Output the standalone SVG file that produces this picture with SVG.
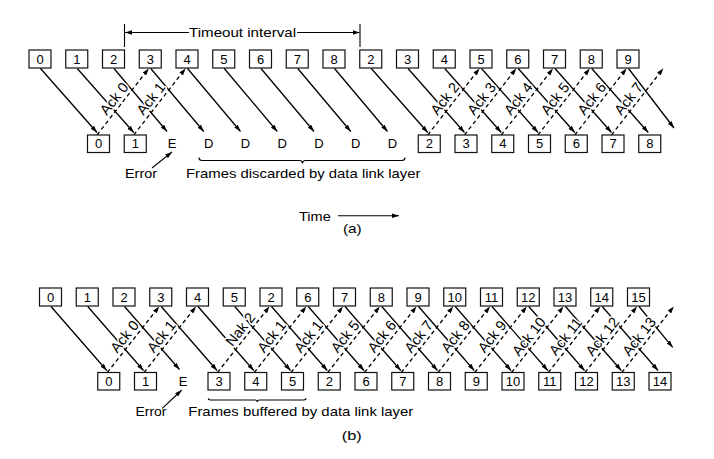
<svg xmlns="http://www.w3.org/2000/svg" width="714" height="459" viewBox="0 0 714 459">
<defs>
<marker id="ah" viewBox="0 0 7 4.6" refX="7" refY="2.3" markerWidth="7" markerHeight="4.6" markerUnits="userSpaceOnUse" orient="auto"><path d="M0,0 L7,2.3 L0,4.6 z" fill="#000"/></marker>
</defs>
<style>
.b{fill:#fff;stroke:#111;stroke-width:1.2}
.t{font-family:"Liberation Sans",Arial,sans-serif;font-size:13px;text-anchor:middle;fill:#000}
.f{stroke:#000;stroke-width:1.3;fill:none;marker-end:url(#ah)}
.d{stroke:#000;stroke-width:1.3;fill:none;stroke-dasharray:4 3;marker-end:url(#ah)}
.l{font-family:"Liberation Sans",Arial,sans-serif;font-size:14.5px;text-anchor:middle;fill:#000;stroke:#fff;stroke-width:3;paint-order:stroke;stroke-linejoin:round}
.x{font-family:"Liberation Sans",Arial,sans-serif;font-size:13px;fill:#000}
.p{stroke:#000;stroke-width:1.1;fill:none}
.a{stroke:#000;stroke-width:1.1;fill:none;marker-end:url(#ah)}
</style>
<rect width="714" height="459" fill="#fff"/>

<g id="connectors">
<path class="f" d="M40.5,68.5 L97,132.5"/>
<path class="f" d="M77.25,68.5 L133.75,132.5"/>
<path class="f" d="M114,68.5 L167,131.5"/>
<path class="f" d="M150.75,68.5 L203.75,131.5"/>
<path class="f" d="M187.5,68.5 L240.5,131.5"/>
<path class="f" d="M224.25,68.5 L277.25,131.5"/>
<path class="f" d="M261,68.5 L314,131.5"/>
<path class="f" d="M297.75,68.5 L350.75,131.5"/>
<path class="f" d="M334.5,68.5 L387.5,131.5"/>
<path class="f" d="M371.25,68.5 L427.75,132.5"/>
<path class="f" d="M408,68.5 L464.5,132.5"/>
<path class="f" d="M444.75,68.5 L501.25,132.5"/>
<path class="f" d="M481.5,68.5 L538,132.5"/>
<path class="f" d="M518.25,68.5 L574.75,132.5"/>
<path class="f" d="M555,68.5 L611.5,132.5"/>
<path class="f" d="M591.75,68.5 L648.25,132.5"/>
<path class="f" d="M628.5,68.5 L674,128"/>
<path class="d" d="M97,135 L148.75,68.5"/>
<path class="d" d="M133.75,135 L185.5,68.5"/>
<path class="d" d="M427.75,135 L479.5,68.5"/>
<path class="d" d="M464.5,135 L516.25,68.5"/>
<path class="d" d="M501.25,135 L553,68.5"/>
<path class="d" d="M538,135 L589.75,68.5"/>
<path class="d" d="M574.75,135 L626.5,68.5"/>
<path class="d" d="M611.5,135 L663.25,68.5"/>
<path class="p" d="M124.5,24 V47 M360,24 V47"/>
<path class="a" d="M189,32.5 H125"/>
<path class="a" d="M297,32.5 H359.5"/>
<path class="a" d="M152,168 L172,152"/>
<path class="a" d="M338,215.7 H399"/>
<path class="p" d="M199,157.5 Q199,160.5 202,160.5 L299.5,160.5 Q302.5,160.5 302.5,163.5 Q302.5,160.5 305.5,160.5 L402,160.5 Q405,160.5 405,157.5"/>
<path class="f" d="M51,306.5 L106.75,370.5"/>
<path class="f" d="M87.75,306.5 L143.5,370.5"/>
<path class="f" d="M124.5,306.5 L179.5,369.5"/>
<path class="f" d="M161.25,306.5 L217,370.5"/>
<path class="f" d="M198,306.5 L253.75,370.5"/>
<path class="f" d="M234.75,306.5 L290.5,370.5"/>
<path class="f" d="M271.5,306.5 L327.25,370.5"/>
<path class="f" d="M308.25,306.5 L364,370.5"/>
<path class="f" d="M345,306.5 L400.75,370.5"/>
<path class="f" d="M381.75,306.5 L437.5,370.5"/>
<path class="f" d="M418.5,306.5 L474.25,370.5"/>
<path class="f" d="M455.25,306.5 L511,370.5"/>
<path class="f" d="M492,306.5 L547.75,370.5"/>
<path class="f" d="M528.75,306.5 L584.5,370.5"/>
<path class="f" d="M565.5,306.5 L621.25,370.5"/>
<path class="f" d="M602.25,306.5 L658,370.5"/>
<path class="f" d="M639,306.5 L672.7,347.3"/>
<path class="d" d="M107.25,372.5 L159.25,306.5"/>
<path class="d" d="M144,372.5 L196,306.5"/>
<path class="d" d="M217.5,372.5 L269.5,306.5"/>
<path class="d" d="M254.25,372.5 L306.25,306.5"/>
<path class="d" d="M291,372.5 L343,306.5"/>
<path class="d" d="M327.75,372.5 L379.75,306.5"/>
<path class="d" d="M364.5,372.5 L416.5,306.5"/>
<path class="d" d="M401.25,372.5 L453.25,306.5"/>
<path class="d" d="M438,372.5 L490,306.5"/>
<path class="d" d="M474.75,372.5 L526.75,306.5"/>
<path class="d" d="M511.5,372.5 L563.5,306.5"/>
<path class="d" d="M548.25,372.5 L600.25,306.5"/>
<path class="d" d="M585,372.5 L637,306.5"/>
<path class="d" d="M621.75,372.5 L673.75,306.5"/>
<path class="a" d="M162.3,408.3 L181.7,390"/>
<path class="p" d="M208.3,398.3 Q208.3,400 210.5,400 L255,400 Q257.3,400 257.3,402 Q257.3,400 259.5,400 L303.8,400 Q306,400 306,398.3"/>
</g>

<g id="ack-labels">
<text class="l" transform="translate(121,104.1) rotate(-52)" y="-3.8">Ack 0</text>
<text class="l" transform="translate(157.75,104.1) rotate(-52)" y="-3.8">Ack 1</text>
<text class="l" transform="translate(451.75,104.1) rotate(-52)" y="-3.8">Ack 2</text>
<text class="l" transform="translate(488.5,104.1) rotate(-52)" y="-3.8">Ack 3</text>
<text class="l" transform="translate(525.25,104.1) rotate(-52)" y="-3.8">Ack 4</text>
<text class="l" transform="translate(562,104.1) rotate(-52)" y="-3.8">Ack 5</text>
<text class="l" transform="translate(598.75,104.1) rotate(-52)" y="-3.8">Ack 6</text>
<text class="l" transform="translate(635.5,104.1) rotate(-52)" y="-3.8">Ack 7</text>
<text class="l" transform="translate(131.45,341.9) rotate(-51.8)" y="-3.8">Ack 0</text>
<text class="l" transform="translate(168.2,341.9) rotate(-51.8)" y="-3.8">Ack 1</text>
<text class="l" transform="translate(247.3,334.8) rotate(-51.8)" y="-3.8">Nak 2</text>
<text class="l" transform="translate(278.45,341.9) rotate(-51.8)" y="-3.8">Ack 1</text>
<text class="l" transform="translate(315.2,341.9) rotate(-51.8)" y="-3.8">Ack 1</text>
<text class="l" transform="translate(351.95,341.9) rotate(-51.8)" y="-3.8">Ack 5</text>
<text class="l" transform="translate(388.7,341.9) rotate(-51.8)" y="-3.8">Ack 6</text>
<text class="l" transform="translate(425.45,341.9) rotate(-51.8)" y="-3.8">Ack 7</text>
<text class="l" transform="translate(462.2,341.9) rotate(-51.8)" y="-3.8">Ack 8</text>
<text class="l" transform="translate(498.95,341.9) rotate(-51.8)" y="-3.8">Ack 9</text>
<text class="l" transform="translate(535.7,341.9) rotate(-51.8)" y="-3.8">Ack 10</text>
<text class="l" transform="translate(572.45,341.9) rotate(-51.8)" y="-3.8">Ack 11</text>
<text class="l" transform="translate(609.2,341.9) rotate(-51.8)" y="-3.8">Ack 12</text>
<text class="l" transform="translate(645.95,341.9) rotate(-51.8)" y="-3.8">Ack 13</text>
</g>

<g id="a-s0"><rect class="b" x="29" y="50" width="22" height="18"/><text class="t" x="40" y="63.7">0</text></g>
<g id="a-s1"><rect class="b" x="65.75" y="50" width="22" height="18"/><text class="t" x="76.75" y="63.7">1</text></g>
<g id="a-s2"><rect class="b" x="102.5" y="50" width="22" height="18"/><text class="t" x="113.5" y="63.7">2</text></g>
<g id="a-s3"><rect class="b" x="139.25" y="50" width="22" height="18"/><text class="t" x="150.25" y="63.7">3</text></g>
<g id="a-s4"><rect class="b" x="176" y="50" width="22" height="18"/><text class="t" x="187" y="63.7">4</text></g>
<g id="a-s5"><rect class="b" x="212.75" y="50" width="22" height="18"/><text class="t" x="223.75" y="63.7">5</text></g>
<g id="a-s6"><rect class="b" x="249.5" y="50" width="22" height="18"/><text class="t" x="260.5" y="63.7">6</text></g>
<g id="a-s7"><rect class="b" x="286.25" y="50" width="22" height="18"/><text class="t" x="297.25" y="63.7">7</text></g>
<g id="a-s8"><rect class="b" x="323" y="50" width="22" height="18"/><text class="t" x="334" y="63.7">8</text></g>
<g id="a-s9"><rect class="b" x="359.75" y="50" width="22" height="18"/><text class="t" x="370.75" y="63.7">2</text></g>
<g id="a-s10"><rect class="b" x="396.5" y="50" width="22" height="18"/><text class="t" x="407.5" y="63.7">3</text></g>
<g id="a-s11"><rect class="b" x="433.25" y="50" width="22" height="18"/><text class="t" x="444.25" y="63.7">4</text></g>
<g id="a-s12"><rect class="b" x="470" y="50" width="22" height="18"/><text class="t" x="481" y="63.7">5</text></g>
<g id="a-s13"><rect class="b" x="506.75" y="50" width="22" height="18"/><text class="t" x="517.75" y="63.7">6</text></g>
<g id="a-s14"><rect class="b" x="543.5" y="50" width="22" height="18"/><text class="t" x="554.5" y="63.7">7</text></g>
<g id="a-s15"><rect class="b" x="580.25" y="50" width="22" height="18"/><text class="t" x="591.25" y="63.7">8</text></g>
<g id="a-s16"><rect class="b" x="617" y="50" width="22" height="18"/><text class="t" x="628" y="63.7">9</text></g>

<g id="a-r0"><rect class="b" x="87.5" y="135" width="22" height="17.5"/><text class="t" x="98.5" y="148.4">0</text></g>
<g id="a-r1"><rect class="b" x="124.25" y="135" width="22" height="17.5"/><text class="t" x="135.25" y="148.4">1</text></g>
<g id="a-r2"><text class="t" x="172" y="148.4">E</text></g>
<g id="a-r3"><text class="t" x="208.75" y="148.4">D</text></g>
<g id="a-r4"><text class="t" x="245.5" y="148.4">D</text></g>
<g id="a-r5"><text class="t" x="282.25" y="148.4">D</text></g>
<g id="a-r6"><text class="t" x="319" y="148.4">D</text></g>
<g id="a-r7"><text class="t" x="355.75" y="148.4">D</text></g>
<g id="a-r8"><text class="t" x="392.5" y="148.4">D</text></g>
<g id="a-r9"><rect class="b" x="418.25" y="135" width="22" height="17.5"/><text class="t" x="429.25" y="148.4">2</text></g>
<g id="a-r10"><rect class="b" x="455" y="135" width="22" height="17.5"/><text class="t" x="466" y="148.4">3</text></g>
<g id="a-r11"><rect class="b" x="491.75" y="135" width="22" height="17.5"/><text class="t" x="502.75" y="148.4">4</text></g>
<g id="a-r12"><rect class="b" x="528.5" y="135" width="22" height="17.5"/><text class="t" x="539.5" y="148.4">5</text></g>
<g id="a-r13"><rect class="b" x="565.25" y="135" width="22" height="17.5"/><text class="t" x="576.25" y="148.4">6</text></g>
<g id="a-r14"><rect class="b" x="602" y="135" width="22" height="17.5"/><text class="t" x="613" y="148.4">7</text></g>
<g id="a-r15"><rect class="b" x="638.75" y="135" width="22" height="17.5"/><text class="t" x="649.75" y="148.4">8</text></g>

<g id="a-text">
<text class="x" x="189" y="36.8" textLength="107" lengthAdjust="spacingAndGlyphs">Timeout interval</text>
<text class="x" x="125" y="177.5" textLength="32" lengthAdjust="spacingAndGlyphs">Error</text>
<text class="x" x="186" y="177.5" textLength="234.5" lengthAdjust="spacingAndGlyphs">Frames discarded by data link layer</text>
<text class="x" x="299" y="220.5" textLength="31.7" lengthAdjust="spacingAndGlyphs">Time</text>
<text class="x" x="343" y="233" textLength="18.7" lengthAdjust="spacingAndGlyphs">(a)</text>
</g>

<g id="b-s0"><rect class="b" x="39.5" y="288" width="22" height="18"/><text class="t" x="50.5" y="301.7">0</text></g>
<g id="b-s1"><rect class="b" x="76.25" y="288" width="22" height="18"/><text class="t" x="87.25" y="301.7">1</text></g>
<g id="b-s2"><rect class="b" x="113" y="288" width="22" height="18"/><text class="t" x="124" y="301.7">2</text></g>
<g id="b-s3"><rect class="b" x="149.75" y="288" width="22" height="18"/><text class="t" x="160.75" y="301.7">3</text></g>
<g id="b-s4"><rect class="b" x="186.5" y="288" width="22" height="18"/><text class="t" x="197.5" y="301.7">4</text></g>
<g id="b-s5"><rect class="b" x="223.25" y="288" width="22" height="18"/><text class="t" x="234.25" y="301.7">5</text></g>
<g id="b-s6"><rect class="b" x="260" y="288" width="22" height="18"/><text class="t" x="271" y="301.7">2</text></g>
<g id="b-s7"><rect class="b" x="296.75" y="288" width="22" height="18"/><text class="t" x="307.75" y="301.7">6</text></g>
<g id="b-s8"><rect class="b" x="333.5" y="288" width="22" height="18"/><text class="t" x="344.5" y="301.7">7</text></g>
<g id="b-s9"><rect class="b" x="370.25" y="288" width="22" height="18"/><text class="t" x="381.25" y="301.7">8</text></g>
<g id="b-s10"><rect class="b" x="407" y="288" width="22" height="18"/><text class="t" x="418" y="301.7">9</text></g>
<g id="b-s11"><rect class="b" x="443.75" y="288" width="22" height="18"/><text class="t" x="454.75" y="301.7">10</text></g>
<g id="b-s12"><rect class="b" x="480.5" y="288" width="22" height="18"/><text class="t" x="491.5" y="301.7">11</text></g>
<g id="b-s13"><rect class="b" x="517.25" y="288" width="22" height="18"/><text class="t" x="528.25" y="301.7">12</text></g>
<g id="b-s14"><rect class="b" x="554" y="288" width="22" height="18"/><text class="t" x="565" y="301.7">13</text></g>
<g id="b-s15"><rect class="b" x="590.75" y="288" width="22" height="18"/><text class="t" x="601.75" y="301.7">14</text></g>
<g id="b-s16"><rect class="b" x="627.5" y="288" width="22" height="18"/><text class="t" x="638.5" y="301.7">15</text></g>

<g id="b-r0"><rect class="b" x="97.75" y="372.5" width="22" height="17.5"/><text class="t" x="108.75" y="386">0</text></g>
<g id="b-r1"><rect class="b" x="134.5" y="372.5" width="22" height="17.5"/><text class="t" x="145.5" y="386">1</text></g>
<g id="b-r2"><text class="t" x="183" y="386">E</text></g>
<g id="b-r3"><rect class="b" x="208" y="372.5" width="22" height="17.5"/><text class="t" x="219" y="386">3</text></g>
<g id="b-r4"><rect class="b" x="244.75" y="372.5" width="22" height="17.5"/><text class="t" x="255.75" y="386">4</text></g>
<g id="b-r5"><rect class="b" x="281.5" y="372.5" width="22" height="17.5"/><text class="t" x="292.5" y="386">5</text></g>
<g id="b-r6"><rect class="b" x="318.25" y="372.5" width="22" height="17.5"/><text class="t" x="329.25" y="386">2</text></g>
<g id="b-r7"><rect class="b" x="355" y="372.5" width="22" height="17.5"/><text class="t" x="366" y="386">6</text></g>
<g id="b-r8"><rect class="b" x="391.75" y="372.5" width="22" height="17.5"/><text class="t" x="402.75" y="386">7</text></g>
<g id="b-r9"><rect class="b" x="428.5" y="372.5" width="22" height="17.5"/><text class="t" x="439.5" y="386">8</text></g>
<g id="b-r10"><rect class="b" x="465.25" y="372.5" width="22" height="17.5"/><text class="t" x="476.25" y="386">9</text></g>
<g id="b-r11"><rect class="b" x="502" y="372.5" width="22" height="17.5"/><text class="t" x="513" y="386">10</text></g>
<g id="b-r12"><rect class="b" x="538.75" y="372.5" width="22" height="17.5"/><text class="t" x="549.75" y="386">11</text></g>
<g id="b-r13"><rect class="b" x="575.5" y="372.5" width="22" height="17.5"/><text class="t" x="586.5" y="386">12</text></g>
<g id="b-r14"><rect class="b" x="612.25" y="372.5" width="22" height="17.5"/><text class="t" x="623.25" y="386">13</text></g>
<g id="b-r15"><rect class="b" x="649" y="372.5" width="22" height="17.5"/><text class="t" x="660" y="386">14</text></g>

<g id="b-text">
<text class="x" x="135.5" y="416" textLength="31" lengthAdjust="spacingAndGlyphs">Error</text>
<text class="x" x="188.3" y="416" textLength="225" lengthAdjust="spacingAndGlyphs">Frames buffered by data link layer</text>
<text class="x" x="341.7" y="440.3" textLength="20" lengthAdjust="spacingAndGlyphs">(b)</text>
</g>
</svg>
